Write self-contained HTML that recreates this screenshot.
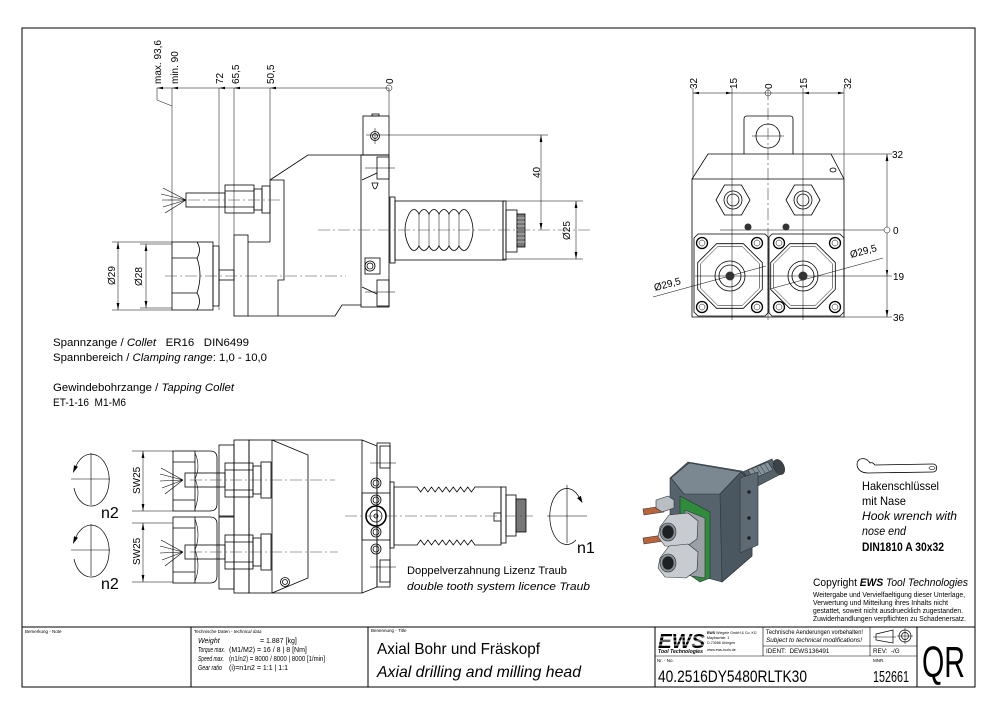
<!DOCTYPE html>
<html><head><meta charset="utf-8">
<style>
html,body{margin:0;padding:0;background:#fff;}
svg{display:block;}
text{font-family:"Liberation Sans",sans-serif;fill:#000;stroke:none;}
.it{font-style:italic;}
</style></head><body>
<svg width="1000" height="715" viewBox="0 0 1000 715" xmlns="http://www.w3.org/2000/svg">
<defs>
<marker id="ar" viewBox="0 0 10 4" refX="10" refY="2" markerWidth="7" markerHeight="2.8" markerUnits="userSpaceOnUse" orient="auto-start-reverse"><path d="M0,0L10,2L0,4z" fill="#000"/></marker>
</defs>
<rect x="0" y="0" width="1000" height="715" fill="#fff"/>

<!-- FRAME -->
<g fill="none" stroke="#000" stroke-width="1">
<rect x="22" y="28" width="953" height="659"/>
<line x1="22" y1="627" x2="975" y2="627"/>
<line x1="191" y1="627" x2="191" y2="687"/>
<line x1="368" y1="627" x2="368" y2="687"/>
<line x1="655" y1="627" x2="655" y2="687"/>
<line x1="917" y1="627" x2="917" y2="687"/>
<line x1="763" y1="627" x2="763" y2="656" stroke-width=".6"/>
<line x1="870" y1="627" x2="870" y2="656" stroke-width=".6"/>
<line x1="763" y1="646" x2="917" y2="646" stroke-width=".6"/>
<line x1="655" y1="656" x2="917" y2="656" stroke-width=".6"/>
</g>

<!-- ================= TOP-LEFT VIEW ================= -->
<g fill="none" stroke="#000" stroke-width="0.5">
<line x1="157" y1="88" x2="389" y2="88"/>
<path d="M157,88V100L172,106M172,88V242M219,88V310M234,88V235M270,88V180M389,88V116"/>
<circle cx="389" cy="88" r="3"/>
<path d="M112,242H172M112,310H172M140,244H172M140,308H172"/>
<line x1="118" y1="242" x2="118" y2="310" marker-start="url(#ar)" marker-end="url(#ar)"/>
<line x1="146" y1="244" x2="146" y2="308" marker-start="url(#ar)" marker-end="url(#ar)"/>
<path d="M366,135H548"/>
<line x1="541" y1="135" x2="541" y2="230" marker-start="url(#ar)" marker-end="url(#ar)"/>
<path d="M503,201H583M503,259H583"/>
<line x1="576" y1="201" x2="576" y2="259" marker-start="url(#ar)" marker-end="url(#ar)"/>
<path d="M365,168H395M365,292H395M375,128V144"/>
</g>
<g fill="#000">
<polygon points="157,88 163,86.8 163,89.2"/>
<polygon points="172,88 178,86.8 178,89.2"/>
<polygon points="219,88 225,86.8 225,89.2"/>
<polygon points="234,88 240,86.8 240,89.2"/>
<polygon points="270,88 276,86.8 276,89.2"/>
</g>
<g font-size="10">
<text transform="translate(161,84) rotate(-90)">max. 93,6</text>
<text transform="translate(178,84) rotate(-90)">min. 90</text>
<text transform="translate(223,84) rotate(-90)">72</text>
<text transform="translate(239,84) rotate(-90)">65,5</text>
<text transform="translate(274,84) rotate(-90)">50,5</text>
<text transform="translate(393,84) rotate(-90)">0</text>
<text transform="translate(115,285) rotate(-90)">Ø29</text>
<text transform="translate(142,286) rotate(-90)">Ø28</text>
<text transform="translate(540,178) rotate(-90)">40</text>
<text transform="translate(570,240) rotate(-90)">Ø25</text>
</g>
<g fill="none" stroke="#000" stroke-width="0.8">
<rect x="172" y="242" width="41" height="68"/>
<path d="M172,258H197M172,293H197"/>
<path d="M197,242Q202,250 197,258Q203,275 197,293Q202,301 197,310"/>
<rect x="213" y="246" width="6" height="60" rx="1"/>
<rect x="219" y="270" width="15" height="10"/>
<rect x="234" y="235" width="14" height="81"/>
<path d="M248,242H270"/>
<path d="M270,180L308,155H389"/>
<path d="M270,180H284V280H278V316"/>
<path d="M270,180V242"/>
<path d="M248,316H335L342,305H361"/>
<rect x="361" y="155" width="28" height="152"/>
<rect x="363" y="116" width="26" height="39"/>
<rect x="372" y="114" width="7" height="2"/>
<circle cx="375" cy="136" r="4.5"/><circle cx="375" cy="136" r="2.5"/>
<rect x="377" y="157" width="12" height="22"/>
<rect x="377" y="280" width="12" height="26"/>
<path d="M362,180L377,173M362,287L377,294"/>
<path d="M372,183Q375,195 378,183Z"/>
<rect x="365" y="258" width="15" height="16"/>
<circle cx="370" cy="266" r="5"/><circle cx="370" cy="266" r="3"/>
<rect x="186" y="193" width="39" height="14"/>
<rect x="225" y="185" width="29" height="28"/>
<path d="M225,191H254M225,207H254"/>
<rect x="254" y="189" width="8" height="21"/>
<rect x="262" y="186" width="8" height="27"/>
<path d="M186,200L163,188M186,200L161,194M186,200L162,200M186,200L163,207M186,200L165,213" stroke-width=".6"/>
<rect x="390" y="197" width="5" height="66"/>
<rect x="395" y="201" width="108" height="59"/>
<rect x="503" y="201" width="3" height="59"/>
<rect x="506" y="210" width="11" height="42"/>
<rect x="517" y="214" width="8" height="33" fill="#777"/>
<path d="M517,218H525M517,222H525M517,226H525M517,230H525M517,234H525M517,238H525M517,242H525" stroke="#fff" stroke-width=".5"/>
<path d="M409,214Q414,205 419,214Q424,205 429,214Q434,205 439,214Q444,205 449,214Q454,205 459,214Q464,205 469,214Q477,230 469,246Q464,255 459,246Q454,255 449,246Q444,255 439,246Q434,255 429,246Q424,255 419,246Q414,255 409,246Q401,230 409,214Z"/>
<path d="M419,214V246M429,214V246M439,214V246M449,214V246M459,214V246" stroke-width=".5"/>
</g>
<g fill="none" stroke="#444" stroke-width="0.6" stroke-dasharray="12 3 2 3">
<path d="M168,200H280M318,230H590M165,276H346"/>
</g>

<!-- ================= TOP-RIGHT VIEW ================= -->
<g fill="none" stroke="#000" stroke-width="0.5">
<line x1="693" y1="93" x2="844" y2="93"/>
<circle cx="768" cy="93" r="3"/>
<path d="M693,88V179M732,88V320M803,88V320M844,88V179"/>
<path d="M831,154H892M844,317H892M695,276H892M720,230H884"/>
<line x1="887" y1="154" x2="887" y2="317" marker-start="url(#ar)" marker-end="url(#ar)"/>
<circle cx="887" cy="230" r="3" fill="#fff"/>
<path d="M653,297L766,266M770,289L883,258"/>
<path d="M752,136H784"/>
</g>
<path d="M768,88V320" stroke="#444" stroke-width=".6" stroke-dasharray="12 3 2 3" fill="none"/>
<g fill="#000">
<polygon points="693,93 699,91.8 699,94.2"/>
<polygon points="732,93 726,91.8 726,94.2"/>
<polygon points="803,93 809,91.8 809,94.2"/>
<polygon points="844,93 838,91.8 838,94.2"/>
<polygon points="887,276 885.8,270 888.2,270"/>
</g>
<g font-size="10">
<text transform="translate(697,89) rotate(-90)">32</text>
<text transform="translate(737,89) rotate(-90)">15</text>
<text transform="translate(772,89) rotate(-90)">0</text>
<text transform="translate(807,89) rotate(-90)">15</text>
<text transform="translate(851,89) rotate(-90)">32</text>
<text x="892" y="158">32</text>
<text x="893" y="234">0</text>
<text x="893" y="280">19</text>
<text x="893" y="321">36</text>
<text transform="translate(655,291) rotate(-15)">Ø29,5</text>
<text transform="translate(851,258) rotate(-15)">Ø29,5</text>
</g>
<g fill="none" stroke="#000" stroke-width="0.8">
<path d="M744,154V119Q744,116 747,116H790Q793,116 793,119V154"/>
<circle cx="768" cy="136" r="12"/>
<path d="M692,317V179L708,154H831L844,179V317Z"/>
<line x1="692" y1="179" x2="844" y2="179"/>
<polygon points="716,200 724.5,185 741.5,185 750,200 741.5,215 724.5,215"/>
<circle cx="733" cy="200" r="9"/><circle cx="733" cy="200" r="6"/>
<polygon points="786,200 794.5,185 811.5,185 820,200 811.5,215 794.5,215"/>
<circle cx="803" cy="200" r="9"/><circle cx="803" cy="200" r="6"/>
<ellipse cx="833" cy="170" rx="3" ry="2"/>
<path d="M698,234H765L768,237V313L765,316H698L694,312V238Z"/>
<path d="M772,234H840L844,238V312L840,316H772L769,313V237Z"/>
<polygon points="762.3,289.4 743.4,308.3 716.6,308.3 697.7,289.4 697.7,262.6 716.6,243.7 743.4,243.7 762.3,262.6"/>
<polygon points="759.5,288.2 742.2,305.5 717.8,305.5 700.5,288.2 700.5,263.8 717.8,246.5 742.2,246.5 759.5,263.8" stroke-width=".5"/>
<polygon points="835.3,289.4 816.4,308.3 789.6,308.3 770.7,289.4 770.7,262.6 789.6,243.7 816.4,243.7 835.3,262.6"/>
<polygon points="832.5,288.2 815.2,305.5 790.8,305.5 773.5,288.2 773.5,263.8 790.8,246.5 815.2,246.5 832.5,263.8" stroke-width=".5"/>
<circle cx="730" cy="276" r="15"/><circle cx="730" cy="276" r="11"/>
<circle cx="803" cy="276" r="15"/><circle cx="803" cy="276" r="11"/>
<g stroke-width="1.3">
<circle cx="702" cy="243" r="5.5"/><circle cx="757" cy="243" r="5.5"/>
<circle cx="702" cy="307" r="5.5"/><circle cx="757" cy="307" r="5.5"/>
<circle cx="779" cy="243" r="5.5"/><circle cx="835" cy="243" r="5.5"/>
<circle cx="779" cy="307" r="5.5"/><circle cx="835" cy="307" r="5.5"/>
</g>
<g stroke-width=".5">
<circle cx="702" cy="243" r="3"/><circle cx="757" cy="243" r="3"/>
<circle cx="702" cy="307" r="3"/><circle cx="757" cy="307" r="3"/>
<circle cx="779" cy="243" r="3"/><circle cx="835" cy="243" r="3"/>
<circle cx="779" cy="307" r="3"/><circle cx="835" cy="307" r="3"/>
</g>
</g>
<g fill="#333">
<circle cx="748" cy="227" r="3.5"/><circle cx="786" cy="227" r="3.5"/>
<circle cx="730" cy="276" r="4.5"/><circle cx="803" cy="276" r="4.5"/>
</g>

<!-- ================= TEXT BLOCK ================= -->
<g font-size="11">
<text x="53" y="346" xml:space="preserve" textLength="196" lengthAdjust="spacingAndGlyphs">Spannzange / <tspan class="it">Collet</tspan>   ER16   DIN6499</text>
<text x="53" y="361" xml:space="preserve" textLength="214" lengthAdjust="spacingAndGlyphs">Spannbereich / <tspan class="it">Clamping range</tspan>: 1,0 - 10,0</text>
<text x="53" y="391" xml:space="preserve" textLength="181" lengthAdjust="spacingAndGlyphs">Gewindebohrzange / <tspan class="it">Tapping Collet</tspan></text>
<text x="53" y="406" xml:space="preserve" textLength="73" lengthAdjust="spacingAndGlyphs">ET-1-16  M1-M6</text>
</g>

<!-- ================= BOTTOM VIEW ================= -->
<g fill="none" stroke="#000" stroke-width="0.7">
<path d="M76,466A18,26 0 1 1 74,488"/>
<path d="M71,479H110M91,453V505" stroke-width=".6"/>
<path d="M76,537A18,26 0 1 1 74,559"/>
<path d="M71,550H110M91,524V576" stroke-width=".6"/>
<path d="M579,497A17,28 0 1 0 576,540"/>
<path d="M547,516H587M567,485V543" stroke-width=".6"/>
</g>
<g fill="#000">
<polygon points="73,473 78,466.8 74,465.2"/>
<polygon points="73,544 78,537.8 74,536.2"/>
<polygon points="582.5,503 580.9,495.9 577.1,498.1"/>
</g>
<g font-size="16">
<text x="101" y="518">n2</text>
<text x="101" y="589">n2</text>
<text x="577" y="553">n1</text>
</g>
<g fill="none" stroke="#000" stroke-width="0.5">
<path d="M132,451H173M132,511H173M132,523H173M132,582H173"/>
<line x1="143" y1="451" x2="143" y2="511" marker-start="url(#ar)" marker-end="url(#ar)"/>
<line x1="143" y1="523" x2="143" y2="582" marker-start="url(#ar)" marker-end="url(#ar)"/>
<path d="M370,463H396M370,567H396"/>
</g>
<g font-size="10">
<text transform="translate(140,494) rotate(-90)">SW25</text>
<text transform="translate(140,565) rotate(-90)">SW25</text>
</g>
<g fill="none" stroke="#000" stroke-width="0.8">
<rect x="173" y="451" width="22" height="60"/>
<path d="M173,462H195M173,500H195"/>
<path d="M195,451H210Q217,451 217,458V504Q217,511 210,511H195"/>
<path d="M195,453Q201,466 195,479Q201,492 195,509" stroke-width=".6"/>
<rect x="173" y="517" width="22" height="66"/>
<path d="M173,528H195M173,572H195"/>
<path d="M195,517H210Q217,517 217,524V576Q217,583 210,583H195"/>
<path d="M195,519Q201,535 195,550Q201,566 195,581" stroke-width=".6"/>
<rect x="219" y="445" width="15" height="71"/>
<rect x="219" y="517" width="15" height="72"/>
<rect x="234" y="440" width="15" height="153"/>
<rect x="249" y="440" width="23" height="153"/>
<path d="M272,440L308,455V578L272,593"/>
<path d="M272,440H362V593H272"/>
<path d="M362,440L377,446V587L362,593"/>
<rect x="377" y="443" width="13" height="144"/>
<rect x="380" y="446" width="10" height="22"/>
<rect x="380" y="560" width="10" height="22"/>
<rect x="362" y="493" width="28" height="47"/>
<circle cx="376" cy="516" r="10" stroke-width="1.6"/><circle cx="376" cy="516" r="6"/><circle cx="376" cy="516" r="2"/>
<circle cx="376" cy="483" r="5"/><circle cx="376" cy="483" r="3"/>
<circle cx="376" cy="500" r="5"/><circle cx="376" cy="500" r="3"/>
<circle cx="376" cy="532" r="5"/><circle cx="376" cy="532" r="3"/>
<circle cx="376" cy="549" r="5"/><circle cx="376" cy="549" r="3"/>
<circle cx="285" cy="582" r="4.5"/><circle cx="285" cy="582" r="2.5"/>
<rect x="185" y="473" width="40" height="14"/>
<rect x="225" y="463" width="28" height="34"/>
<path d="M225,470H253M225,490H253"/>
<rect x="253" y="466" width="8" height="28"/>
<rect x="261" y="462" width="10" height="36"/>
<rect x="185" y="545" width="40" height="14"/>
<rect x="225" y="535" width="28" height="34"/>
<path d="M225,542H253M225,562H253"/>
<rect x="253" y="538" width="8" height="28"/>
<rect x="261" y="534" width="10" height="36"/>
<path d="M183,480L161,468M183,480L160,474M183,480L160,481M183,480L162,488M183,480L165,494" stroke-width=".6"/>
<path d="M183,552L161,540M183,552L160,546M183,552L160,553M183,552L162,560M183,552L165,566" stroke-width=".6"/>
<rect x="390" y="482" width="4" height="66"/>
<path d="M394,487H417L420.6,492L424.25,487L427.9,492L431.5,487L435.1,492L438.75,487L442.4,492L446,487L449.6,492L453.25,487L456.9,492L460.5,487L464.1,492L467.75,487L471.4,492L475,487H501V545H475L471.4,540L467.75,545L464.1,540L460.5,545L456.9,540L453.25,545L449.6,540L446,545L442.4,540L438.75,545L435.1,540L431.5,545L427.9,540L424.25,545L420.6,540L417,545H394Z"/>
<rect x="501" y="487" width="5" height="56"/>
<rect x="506" y="495" width="10" height="41"/>
<rect x="516" y="499" width="10" height="33" fill="#777"/>
<rect x="494" y="513" width="7" height="8"/>
</g>
<g fill="none" stroke="#444" stroke-width="0.6" stroke-dasharray="12 3 2 3">
<path d="M190,480H335M190,552H338M345,516H533"/>
</g>
<g font-size="11">
<text x="407" y="574" textLength="160" lengthAdjust="spacingAndGlyphs">Doppelverzahnung Lizenz Traub</text>
<text x="407" y="590" class="it" textLength="183" lengthAdjust="spacingAndGlyphs">double tooth system licence Traub</text>
</g>

<!-- ================= 3D MODEL ================= -->
<g stroke="#2a3035" stroke-width="0.6" stroke-linejoin="round">
<polygon points="738,474 772,459 781,474 750,490" fill="#56626a"/>
<polygon points="748,470 768,462 773,470 753,479" fill="#86929a"/>
<path d="M752,468L757,476M756,466L761,474M760,465L765,473M764,463L769,471" stroke="#3f494f"/>
<ellipse cx="779" cy="467" rx="5" ry="8" transform="rotate(-25 779 467)" fill="#3b4449"/>
<polygon points="670,478 688,462 742,471 752,482 752,556 722,582 700,576 670,530" fill="#56636c"/>
<polygon points="671,478 689,463 741,472 720,494 684,494" fill="#7b8892"/>
<polygon points="720,494 741,472 752,482 752,556 722,582" fill="#4b5760"/>
<polygon points="740,478 758,472 758,545 740,553" fill="#5d6a73"/>
<circle cx="749" cy="492" r="1.6" fill="#222"/>
<circle cx="749" cy="518" r="1.6" fill="#222"/>
<circle cx="749" cy="538" r="1.6" fill="#222"/>
<polygon points="680,496 710,512 710,578 700,582 680,568" fill="#2f8c3b"/>
<polygon points="685,510 705,518 705,578 685,575" fill="#9aa0a5"/>
<polygon points="643,509 663,506 664,512 644,515" fill="#b8653b"/>
<polygon points="643,538 663,535 664,541 644,544" fill="#b8653b"/>
<polygon points="656,500 668,496 674,500 674,508 662,512 656,508" fill="#b9bec2"/>
<polygon points="660,527 669,515 688,513 698,521 697,539 686,547 665,546 658,537" fill="#c8ccd0"/>
<ellipse cx="668" cy="532" rx="8" ry="9" fill="#8d9398"/>
<ellipse cx="668" cy="532" rx="5.5" ry="6.5" fill="#1e2124"/>
<polygon points="660,558 669,546 688,544 698,552 697,570 686,578 665,577 658,568" fill="#c8ccd0"/>
<ellipse cx="668" cy="563" rx="8" ry="9" fill="#8d9398"/>
<ellipse cx="668" cy="563" rx="5.5" ry="6.5" fill="#1e2124"/>
</g>

<!-- ================= HOOK WRENCH ================= -->
<path d="M870,463C866,457 858,457 857,464C857,470 862,473 868,473L933,472C938,472 938,464 933,464L875,465C873,463 872,462 870,463Z" fill="none" stroke="#000" stroke-width="0.8"/>
<ellipse cx="932" cy="468" rx="3" ry="1.5" fill="none" stroke="#000" stroke-width=".6"/>
<g font-size="12">
<text x="862" y="490" textLength="77" lengthAdjust="spacingAndGlyphs">Hakenschlüssel</text>
<text x="862" y="505" textLength="44" lengthAdjust="spacingAndGlyphs">mit Nase</text>
<text x="862" y="520" class="it" textLength="95" lengthAdjust="spacingAndGlyphs">Hook wrench with</text>
<text x="862" y="535" class="it" textLength="44" lengthAdjust="spacingAndGlyphs">nose end</text>
<text x="862" y="551" font-weight="bold" textLength="82" lengthAdjust="spacingAndGlyphs">DIN1810 A 30x32</text>
</g>

<!-- ================= COPYRIGHT ================= -->
<text x="813" y="586" font-size="11" textLength="155" lengthAdjust="spacingAndGlyphs">Copyright <tspan font-weight="bold" font-style="italic">EWS</tspan><tspan font-style="italic"> Tool Technologies</tspan></text>
<g font-size="7">
<text x="813" y="597" textLength="152" lengthAdjust="spacingAndGlyphs">Weitergabe und Vervielfaeltigung dieser Unterlage,</text>
<text x="813" y="605" textLength="135" lengthAdjust="spacingAndGlyphs">Verwertung und Mitteilung ihres Inhalts nicht</text>
<text x="813" y="613" textLength="150" lengthAdjust="spacingAndGlyphs">gestattet, soweit nicht ausdruecklich zugestanden.</text>
<text x="813" y="621" textLength="153" lengthAdjust="spacingAndGlyphs">Zuwiderhandlungen verpflichten zu Schadenersatz.</text>
</g>

<!-- ================= TITLE BLOCK ================= -->
<g font-size="4.5">
<text x="25" y="633">Bemerkung - Note</text>
<text x="194" y="633">Technische Daten - <tspan class="it">technical data</tspan></text>
<text x="371" y="632">Benennung - <tspan class="it">Title</tspan></text>
<text x="657" y="662">Nr. - No.</text>
<text x="873" y="662">MNR.</text>
</g>
<g font-size="7">
<text x="198" y="643" class="it">Weight</text>
<text x="260" y="643">=  1.887 [kg]</text>
<text x="198" y="652" class="it" textLength="27" lengthAdjust="spacingAndGlyphs">Torque max.</text>
<text x="229" y="652">(M1/M2) = 16 /  8 | 8 [Nm]</text>
<text x="198" y="661" class="it" textLength="26" lengthAdjust="spacingAndGlyphs">Speed max.</text>
<text x="229" y="661" textLength="96" lengthAdjust="spacingAndGlyphs">(n1/n2) = 8000 / 8000 | 8000 [1/min]</text>
<text x="198" y="670" class="it" textLength="24" lengthAdjust="spacingAndGlyphs">Gear ratio</text>
<text x="229" y="670">(i)=n1n2 = 1:1 | 1:1</text>
</g>
<text x="377" y="654" font-size="16" textLength="163" lengthAdjust="spacingAndGlyphs">Axial Bohr und Fräskopf</text>
<text x="377" y="677" font-size="16" class="it" textLength="204" lengthAdjust="spacingAndGlyphs">Axial drilling and milling head</text>

<!-- EWS logo -->
<text x="658" y="648" font-size="20" font-weight="bold" font-style="italic" textLength="47" lengthAdjust="spacingAndGlyphs">EWS</text>
<g stroke="#fff" stroke-width="0.8">
<line x1="656" y1="637" x2="708" y2="637"/>
<line x1="656" y1="641" x2="708" y2="641"/>
<line x1="656" y1="645" x2="708" y2="645"/>
</g>
<text x="658" y="653" font-size="5.5" font-weight="bold" font-style="italic" textLength="45" lengthAdjust="spacingAndGlyphs">Tool Technologies</text>
<g font-size="3.6">
<text x="707" y="634"><tspan font-weight="bold">EWS</tspan> Wiegele GmbH &amp; Co. KG</text>
<text x="707" y="639">Maybachstr. 1</text>
<text x="707" y="644">D-73066 Uhingen</text>
<text x="707" y="651">www.ews-tools.de</text>
</g>
<g font-size="6.3">
<text x="766" y="634" textLength="97" lengthAdjust="spacingAndGlyphs">Technische Aenderungen vorbehalten!</text>
<text x="766" y="642" class="it" textLength="96" lengthAdjust="spacingAndGlyphs">Subject to technical modifications!</text>
<text x="766" y="653" xml:space="preserve">IDENT:  DEWS136491</text>
<text x="873" y="653" xml:space="preserve">REV:  -/G</text>
</g>
<g fill="none" stroke="#000" stroke-width="0.7">
<polygon points="876,634 893,630 893,643 876,640"/>
<line x1="873" y1="637" x2="896" y2="637" stroke-width=".5"/>
<circle cx="905" cy="636" r="6"/><circle cx="905" cy="636" r="3.5"/>
<path d="M897,636H913M905,628V644" stroke-width=".5"/>
</g>
<text x="658" y="682" font-size="17" textLength="149" lengthAdjust="spacingAndGlyphs">40.2516DY5480RLTK30</text>
<text x="873" y="682" font-size="16" textLength="36" lengthAdjust="spacingAndGlyphs">152661</text>
<text x="922" y="677" font-size="44" textLength="43" lengthAdjust="spacingAndGlyphs">QR</text>
</svg>
</body></html>
